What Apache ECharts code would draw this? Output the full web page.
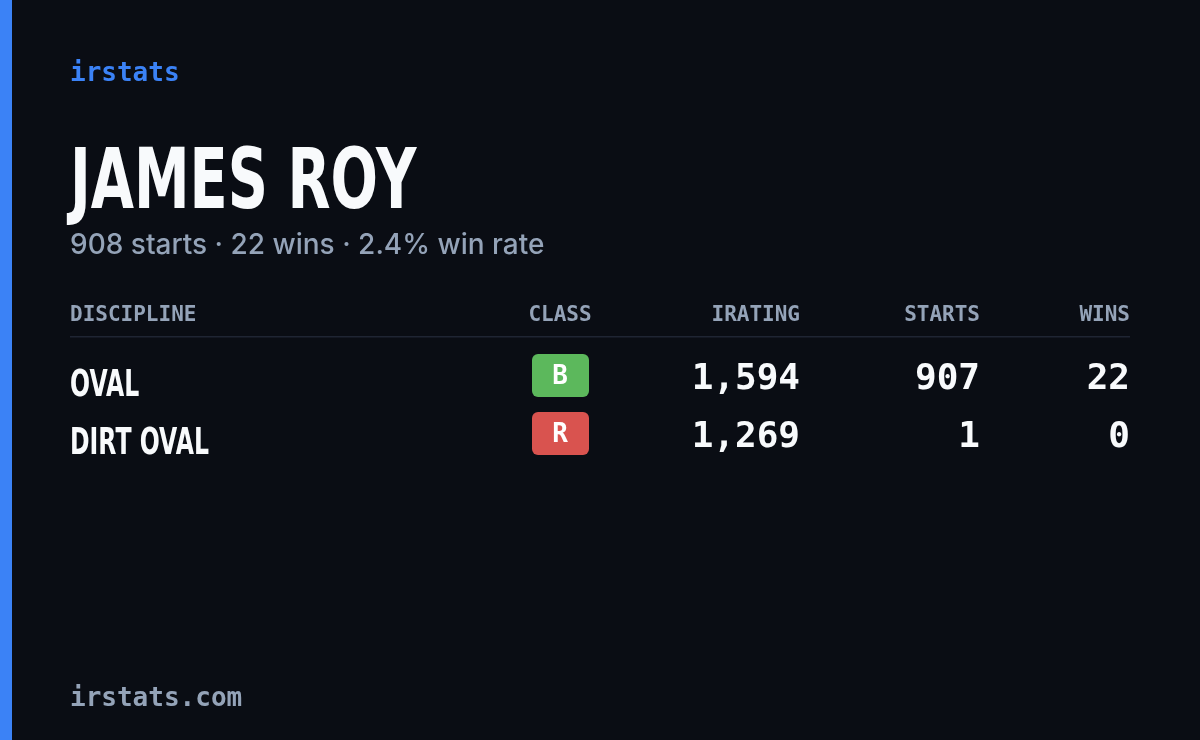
<!DOCTYPE html>
<html>
<head>
<meta charset="utf-8">
<title>irstats card</title>
<script src="https://cdn.jsdelivr.net/npm/echarts@6/dist/echarts.min.js"></script>
<style>html,body{margin:0;background:#0a0d14;}</style>
</head>
<body>
<div id="main" style="width:1200px;height:740px;"></div>
<script>
var brand = 'irstats';
var driverName = 'JAMES ROY';
var summary = '908 starts · 22 wins · 2.4% win rate';
var headers = ['DISCIPLINE', 'CLASS', 'IRATING', 'STARTS', 'WINS'];
var disciplines = ['OVAL', 'DIRT OVAL'];
var classes = ['B', 'R'];
var classColors = ['#5cb85c', '#d9534f'];
var iratings = [1594, 1269];
var starts = [907, 1];
var wins = [22, 0];
var footer = 'irstats.com';

var chart = echarts.init(document.getElementById('main'));
var mono = "'DejaVu Sans Mono', 'Liberation Mono', monospace";
var cond = "'DejaVu Sans', sans-serif";
var colX = [70, 560, 800, 980, 1130];
var colAlign = ['left', 'center', 'right', 'right', 'right'];

var g = [
  {type: 'rect', shape: {x: 0, y: 0, width: 12, height: 740}, style: {fill: '#3b82f6'}},
  {type: 'text', x: 70, y: 74, style: {text: brand, font: 'bold 26px ' + mono, fill: '#3b82f6', textVerticalAlign: 'middle'}},
  {type: 'text', x: 70, y: 186, scaleX: 0.665, style: {text: driverName, font: 'bold 84px ' + cond, fill: '#f8fafc', textVerticalAlign: 'middle'}},
  {type: 'text', x: 70, y: 246, style: {text: summary, font: '500 28px Inter, sans-serif', fill: '#94a3b8', textVerticalAlign: 'middle'}},
  {type: 'rect', shape: {x: 70, y: 336, width: 1060, height: 1.5}, style: {fill: '#1f2533'}},
  {type: 'text', x: 70, y: 699, style: {text: footer, font: 'bold 26px ' + mono, fill: '#94a3b8', textVerticalAlign: 'middle'}}
];
headers.forEach(function (h, i) {
  g.push({type: 'text', x: colX[i], y: 316, style: {text: h, font: 'bold 21px ' + mono, fill: '#94a3b8', textAlign: colAlign[i], textVerticalAlign: 'middle'}});
});
disciplines.forEach(function (d, r) {
  var y = 379 + r * 58;
  g.push({type: 'text', x: 70, y: y + 7, scaleX: 0.62, style: {text: d, font: 'bold 38px ' + cond, fill: '#f8fafc', textVerticalAlign: 'middle'}});
  g.push({type: 'rect', shape: {x: 532, y: y - 25, width: 57, height: 43, r: 6}, style: {fill: classColors[r]}});
  g.push({type: 'text', x: 560, y: y - 2, style: {text: classes[r], font: 'bold 26px ' + mono, fill: '#ffffff', textAlign: 'center', textVerticalAlign: 'middle'}});
  [iratings[r].toLocaleString('en-US'), String(starts[r]), String(wins[r])].forEach(function (v, k) {
    g.push({type: 'text', x: colX[k + 2], y: y + 1, style: {text: v, font: 'bold 36px ' + mono, fill: '#f8fafc', textAlign: 'right', textVerticalAlign: 'middle'}});
  });
});

chart.setOption({backgroundColor: '#0a0d14', graphic: g});
</script>
</body>
</html>
